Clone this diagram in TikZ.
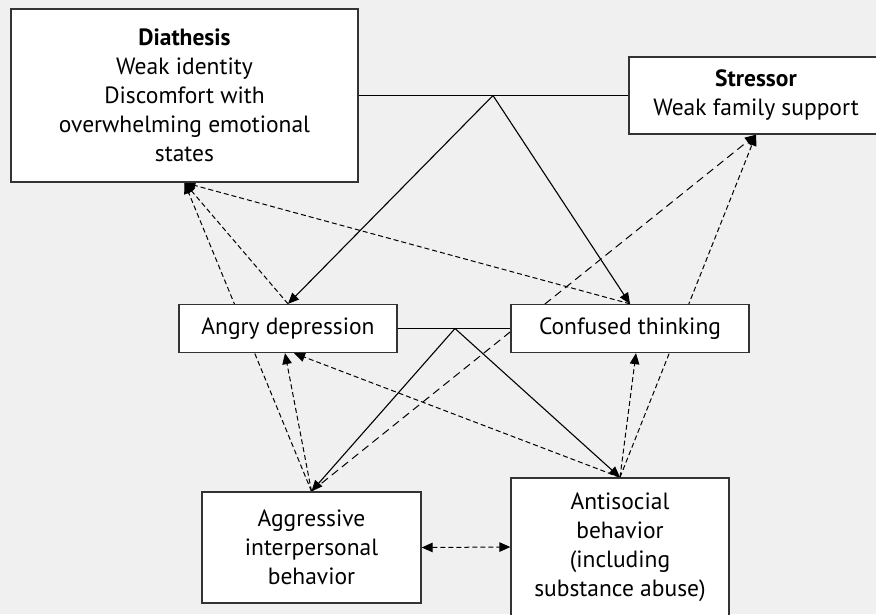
\documentclass[tikz,border=0pt]{standalone}
\usepackage{fontspec}
\setmainfont{PT Sans}
\usetikzlibrary{arrows.meta}
\definecolor{bgc}{HTML}{F0F0F0}
\definecolor{boxline}{HTML}{333333}
\pgfdeclarelayer{links}
\pgfsetlayers{links,main}
\begin{document}
\begin{tikzpicture}[x=1pt,y=-1pt,
  box/.style={draw=boxline, line width=1.3pt, fill=white, align=center,
    inner sep=0pt, font=\fontsize{23.5}{29}\selectfont},
  tip/.style={-{Triangle[length=11pt,width=9.5pt]}},
  link/.style={line width=1.1pt, tip},
  plain/.style={line width=1.1pt},
  fb/.style={line width=1pt, dash pattern=on 5pt off 3pt, tip},
  fblong/.style={fb, dash pattern=on 8pt off 5pt},
]
\path[use as bounding box] (0,0) rectangle (876,614);

% boxes
\node[box, minimum width=347pt, minimum height=173pt] (dia) at (184.5,95.5)
  {\textbf{Diathesis}\\Weak identity\\Discomfort with\\overwhelming emotional\\states};
\node[box, minimum width=254pt, minimum height=77pt] (str) at (756,95.5)
  {\textbf{Stressor}\\Weak family support};
\node[box, minimum width=218pt, minimum height=48pt] (ang) at (288,328.5)
  {Angry depression};
\node[box, minimum width=238pt, minimum height=48pt] (con) at (630,328.5)
  {Confused thinking};
\node[box, minimum width=219pt, minimum height=111pt] (agg) at (311.5,547.5)
  {Aggressive\\interpersonal\\behavior};
\node[box, minimum width=218pt, minimum height=138pt] (ant) at (620,547)
  {Antisocial\\behavior\\(including\\substance abuse)};

\coordinate (topfork) at (493,95.5);
\coordinate (midfork) at (455,328.5);

\begin{pgfonlayer}{links}
  \fill[bgc] (0,0) rectangle (876,614);
  % causal paths
  \draw[plain] (dia.east) -- (str.west);
  \draw[link] (topfork) -- (ang.north);
  \draw[link] (topfork) -- (con.north);
  \draw[plain] (ang.east) -- (con.west);
  \draw[link] (midfork) -- (agg.north);
  \draw[link] (midfork) -- (ant.north);
  % feedback paths
  \draw[fb] (agg.north) -- (dia.south);
  \draw[fb] (ang.north) -- (dia.south);
  \draw[fb] (con.north) -- (dia.south);
  \draw[fb] (agg.north) -- ([xshift=-3pt]ang.south);
  \draw[fb] (ant.north) -- ([xshift=6pt]ang.south);
  \draw[fb] (ant.north) -- ([xshift=6pt]con.south);
  \draw[fb] (ant.north) -- (str.south);
  \draw[fblong] (agg.north) -- (str.south);
  \draw[fb, {Triangle[length=11pt,width=9.5pt]}-{Triangle[length=11pt,width=9.5pt]}]
    (agg.east) -- (ant.west);
\end{pgfonlayer}
\end{tikzpicture}
\end{document}
